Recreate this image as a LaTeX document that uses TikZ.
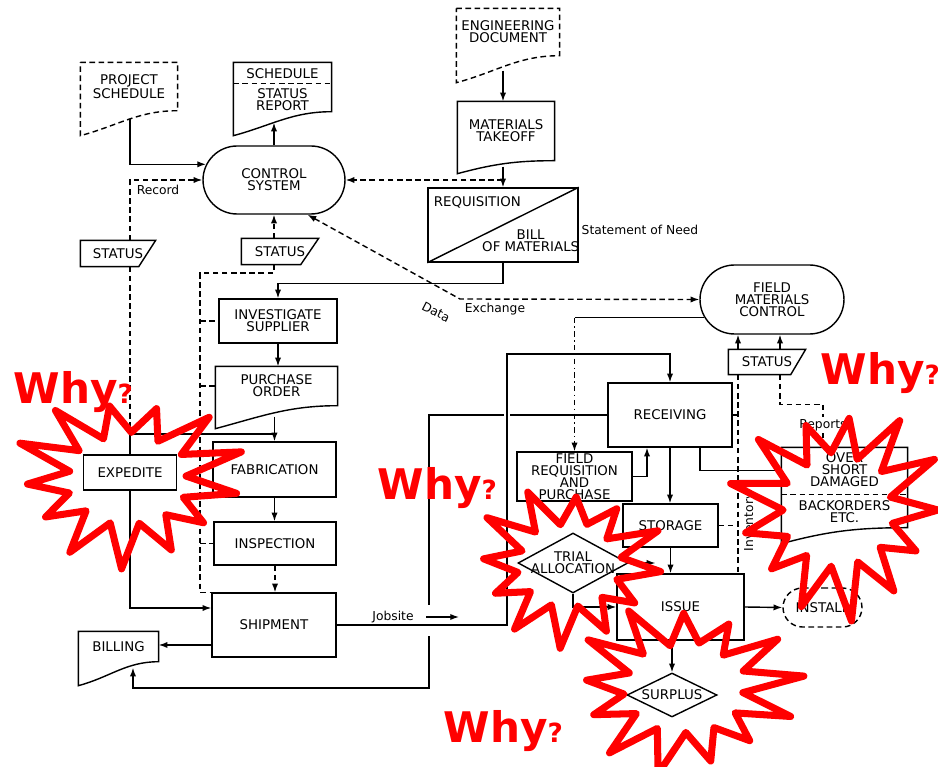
\documentclass[tikz,border=0pt]{standalone}
\usepackage{fontspec}
\setmainfont{DejaVu Sans}
\usetikzlibrary{arrows.meta,shapes.misc,shapes.geometric}
\definecolor{whyred}{RGB}{255,0,0}

% document outline below a node: top, right side, wavy bottom
\newcommand\docline[3][]{%
  \draw [#1] (#2.north west) -- (#2.north east) -- (#2.south east)
    to [out=180, in=15] ([yshift=-#3]#2.south west) -- cycle;}
% card outline with a cut lower right corner
\newcommand\cardline[3][]{%
  \draw [#1] (#2.north west) -- (#2.north east) -- ([xshift=-#3]#2.south east)
    -- (#2.south west) -- cycle;}
% red starburst: centre x, centre y, radius x, radius y, spikes, phase
\newcommand\starburst[6]{%
  \pgfmathtruncatemacro\burstlast{2*#5-1}%
  \draw [burst] plot [variable=\k, samples at={0,...,\burstlast}]
    ({#1+#3*ifthenelse(mod(\k,2)==0, 1+0.12*sin(\k*137+#6), 0.56+0.05*cos(\k*91))*cos(\k*180/#5+#6)},
     {#2+#4*ifthenelse(mod(\k,2)==0, 1+0.12*sin(\k*137+#6), 0.56+0.05*cos(\k*91))*sin(\k*180/#5+#6)})
    -- cycle;}
\newcommand\whyq{{\fontsize{15}{15}\selectfont ?}}

\begin{document}
\begin{tikzpicture}
    [
        x=0.02cm, y=-0.02cm,
        line width=0.8pt,
        lbl/.style={align=center, font=\fontsize{7.6}{6.9}\selectfont, inner sep=0pt},
        note/.style={font=\fontsize{7}{8}\selectfont, inner sep=1pt},
        sz/.style 2 args={minimum width=#1*0.2mm, minimum height=#2*0.2mm},
        box/.style={lbl, draw, rectangle},
        oval/.style={lbl, draw, rounded rectangle},
        decide/.style={draw, diamond, inner sep=0pt},
        dsh/.style={dash pattern=on 3.2pt off 2pt},
        arr/.style={-{Latex[length=5pt,width=3.6pt]}},
        burst/.style={draw=whyred, line width=4pt, line join=round},
        why/.style={text=whyred, font=\fontsize{24}{24}\selectfont\bfseries,
                inner sep=0pt, anchor=base west},
    ]
    \useasboundingbox (0,0) rectangle (938,767);

    % control system and its documents
    \node [oval, sz={142}{68}] (ctrl) at (274,180) {CONTROL\\SYSTEM};
    \node [lbl, sz={96}{47}] (psched) at (129,86.5) {PROJECT\\SCHEDULE};
    \docline[dsh]{psched}{5mm}
    \node [lbl, sz={97}{48}] (sched) at (282.5,87) {};
    \docline{sched}{4.8mm}
    \node [lbl] (schedhead) at ([yshift=-2.2mm]sched.north) {SCHEDULE};
    \node [lbl] (schedbody) at ([yshift=-7.5mm]sched.north) {STATUS\\REPORT};
    \draw [dsh] ([yshift=-4.2mm]sched.north west) -- ([yshift=-4.2mm]sched.north east);
    \node [lbl, sz={74}{25}] (stat1) at (118,253.5) {STATUS};
    \cardline{stat1}{3.4mm}
    \node [lbl, sz={76}{25}] (stat2) at (280,251.5) {STATUS};
    \cardline{stat2}{3.6mm}

    % engineering side
    \node [lbl, sz={102}{46}] (engdoc) at (508,32) {ENGINEERING\\DOCUMENT};
    \docline[dsh]{engdoc}{5.4mm}
    \node [lbl, sz={96}{58}] (mto) at (506,131) {MATERIALS\\TAKEOFF};
    \docline{mto}{2.6mm}
    \node [box, sz={150}{74}] (req) at (503,225) {};
    \draw (req.south west) -- (req.north east);
    \node [lbl] (reqtop) at ([xshift=10mm,yshift=-3mm]req.north west) {REQUISITION};
    \node [lbl] (reqbot) at ([xshift=-9.6mm,yshift=4.4mm]req.south east) {BILL\\OF MATERIALS};
    \node [note] (need) at (640,230) {Statement of Need};

    % purchasing column
    \node [box, sz={118}{44}] (inv) at (278,321) {INVESTIGATE\\SUPPLIER};
    \node [lbl, sz={121}{38}] (porder) at (276.5,386) {PURCHASE\\ORDER};
    \docline{porder}{4.6mm}
    \node [box, sz={123}{55}] (fab) at (274.5,469.5) {FABRICATION};
    \node [box, sz={122}{43}] (insp) at (275,543.5) {INSPECTION};
    \node [box, sz={124}{64}] (ship) at (274,625) {SHIPMENT};
    \node [lbl, sz={79}{29}] (billing) at (118.5,646.5) {BILLING};
    \docline{billing}{4.8mm}
    \node [box, sz={93}{35}] (expd) at (130,472.5) {EXPEDITE};

    % field side
    \node [oval, sz={144}{69}] (fmc) at (772,299.5) {FIELD\\MATERIALS\\CONTROL};
    \node [lbl, sz={76}{24}] (stat3) at (767,362) {STATUS};
    \cardline{stat3}{3mm}
    \node [box, sz={124}{64}] (recv) at (670,415) {RECEIVING};
    \node [box, sz={115}{49}] (frp) at (574.5,476.5) {FIELD\\REQUISITION\\AND\\PURCHASE};
    \node [box, sz={95}{43}] (stor) at (670.5,525.5) {STORAGE};
    \node [decide, sz={110}{60}, label={[lbl]center:TRIAL\\ALLOCATION}] (trial) at (573,563) {};
    \node [box, sz={127}{66}] (issue) at (680.5,607) {ISSUE};
    \node [oval, dsh, sz={79}{39}] (install) at (822.5,607.5) {INSTALL};
    \node [decide, sz={90}{44}, label={[lbl]center:SURPLUS}] (surplus) at (672,695) {};
    \node [lbl, sz={125}{79}] (overs) at (844.5,487.5) {};
    \docline{overs}{3.2mm}
    \draw [dsh] ([yshift=-9.4mm]overs.north west) -- ([yshift=-9.4mm]overs.north east);
    \node [lbl] (overtop) at ([yshift=-4.4mm]overs.north) {OVER\\SHORT\\DAMAGED};
    \node [lbl] (overbot) at ([yshift=-12.8mm]overs.north) {BACKORDERS\\ETC.};

    % into the control system
    \draw [arr] ([yshift=-1.6mm]expd.north |- psched.south) |- (ctrl.167);
    \draw [arr, dsh] (expd.north |- stat1.north) |- (ctrl.west);
    \node [note] (record) at (158,190) {Record};
    \draw [arr] (ctrl.north) -- ([yshift=-2.2mm]ctrl.north |- sched.south);
    \draw [arr, dsh] (ctrl.south |- stat2.north) -- (ctrl.south);
    \draw [arr, dsh] (req.north |- ctrl.east) -- (ctrl.east);

    % requisition chain
    \draw [arr] ([yshift=-3mm]req.north |- engdoc.south) -- (req.north |- mto.north);
    \draw [arr] ([yshift=-1.2mm]req.north |- mto.south) -- (req.north);
    \draw [arr] (req.south) -- ++(0,21) -| (inv.north);

    % status feedback along the column
    \coordinate (dtop) at (200,273);
    \draw [dsh] (ctrl.south |- stat2.south) |- (dtop) |- (ship.north west);
    \foreach \n in {inv, porder, insp}
        \draw [dsh] (dtop |- \n.west) -- (\n.west);

    % purchasing flow
    \draw [arr] (inv.south) -- (inv.south |- porder.north);
    \draw [arr] ([yshift=-2.2mm]fab.north |- porder.south) -- (fab.north);
    \draw [arr] (fab.south) -- (fab.south |- insp.north);
    \draw [arr, dsh] (insp.south) -- (insp.south |- ship.north);
    \draw [arr] ([yshift=-4mm]ship.west) -- ([yshift=-4mm]ship.west -| billing.east);

    % expedite
    \coordinate (exj) at (130,434);
    \draw [dsh] (expd.north |- stat1.south) -- (exj);
    \draw (exj) -- (expd.north);
    \draw (exj) -- (exj -| fab.north);
    \draw [arr] (expd.south) |- ([yshift=3.4mm]ship.west);

    % receiving back to billing
    \coordinate (rbtop) at (429,605);
    \coordinate (rbbot) at (429,636);
    \coordinate (rbcorner) at (429,688);
    \draw (recv.west) -| (rbtop);
    \draw [arr] (rbbot) -- (rbcorner) -| ([xshift=2.9mm,yshift=-1.2mm]billing.south);

    % field materials control
    \coordinate (frtop) at (frp.north |- fmc.195);
    \draw (fmc.195) -- (frtop);
    \draw [arr, dashdotted] (frtop) -- (frp.north);
    \coordinate (dxbend) at (460,299);
    \draw [dsh, {Latex[length=5pt,width=3.6pt]}-{Latex[length=5pt,width=3.6pt]}]
        (ctrl.-46) -- (dxbend) -- (fmc.west);
    \node [note, rotate=-27] (datal) at (436,312) {Data};
    \node [note] (exchl) at (495,309) {Exchange};

    % jobsite
    \coordinate (jb) at (507,354);
    \draw [white, line width=3pt, shorten <=4pt, shorten >=4pt] (ship.east) -| (jb) -| (recv.north);
    \draw [arr] (ship.east) -| (jb) -| (recv.north);
    \node [note] (jobl) at (393,617) {Jobsite};
    \draw [arr] ([xshift=2mm]jobl.east) -- ++(33,0);

    % field flow
    \draw [arr] (frp.east) -| ([xshift=-4.6mm]recv.south);
    \draw [arr] (recv.south) -- (recv.south |- stor.north);
    \draw [arr] (stor.south) -- (stor.south |- issue.north);
    \draw [arr] (trial.east) -- ([xshift=-3mm]stor.south |- trial.east);
    \draw [arr] (trial.south) |- (issue.west);
    \draw [arr] (issue.east) -- (install.west);
    \draw [arr] (issue.south -| surplus.north) -- (surplus.north);
    \draw ([xshift=6mm]recv.south) |- ([yshift=3.4mm]overs.west);

    % status reports to field control
    \draw [arr] ([xshift=-5.8mm]stat3.north) -- ([xshift=-5.8mm]stat3.north |- fmc.south);
    \draw [arr] ([xshift=2.6mm]stat3.north) -- ([xshift=2.6mm]stat3.north |- fmc.south);
    \draw [dsh] ([xshift=-5.8mm]stat3.south) -- ([xshift=-5.8mm]stat3.south |- issue.north);
    \draw [dsh] (recv.east) -- ([xshift=-5.8mm]stat3.south |- recv.east);
    \draw [dsh] (stor.east) -- ([xshift=-5.8mm]stat3.south |- stor.east);
    \node [note, rotate=90] (invl) at (750,522) {Inventory};
    \draw [dsh] ([xshift=2.6mm]stat3.south) -- ++(0,30) -| ([xshift=-4.3mm]overs.north);
    \node [note, fill=white] (repl) at (823,425) {Reports};

    % why?
    \starburst{128}{479}{108}{81}{13}{10}
    \starburst{569}{565}{91}{75}{12}{5}
    \starburst{685}{688}{108}{80}{13}{20}
    \starburst{838}{510}{100}{100}{13}{0}
    \node [why] (why1) at (13,403) {Why\whyq};
    \node [why] (why2) at (820,385) {Why\whyq};
    \node [why] (why3) at (377,500) {Why\whyq};
    \node [why] (why4) at (443,742) {Why\whyq};
\end{tikzpicture}
\end{document}
